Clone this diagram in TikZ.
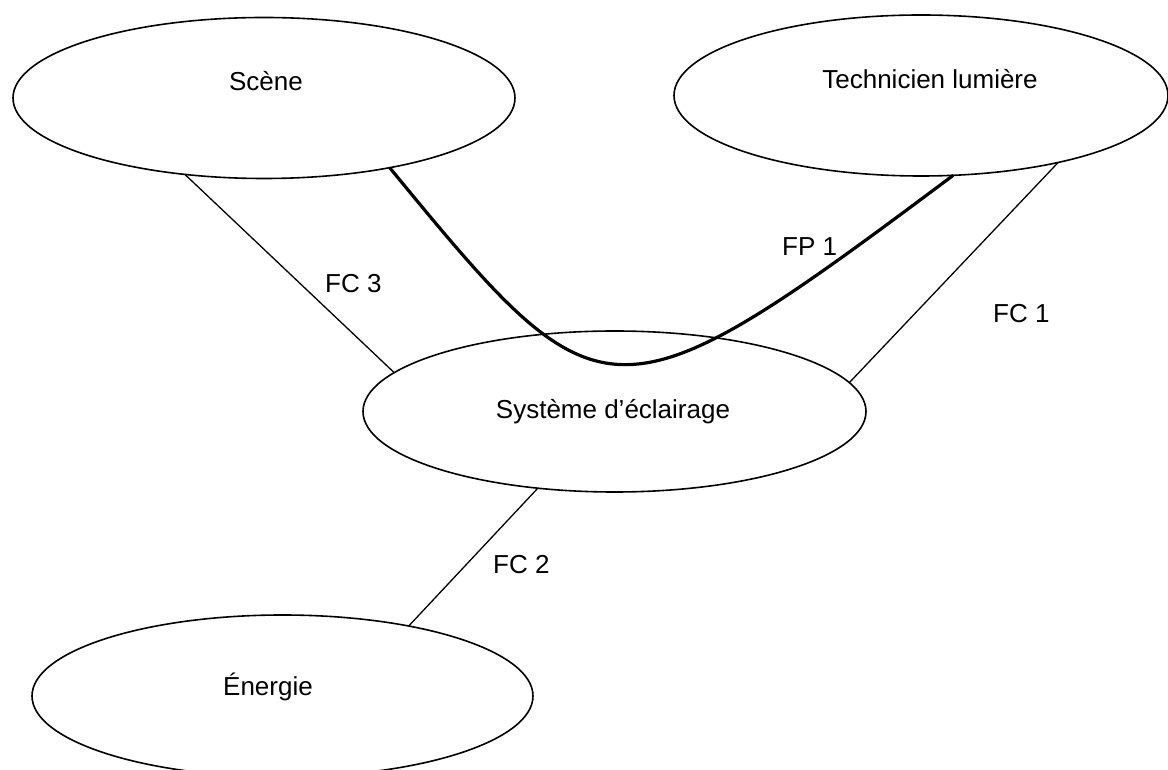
\documentclass[tikz,border=0pt]{standalone}
\usepackage{fontspec}
\setmainfont{Liberation Sans}
\usetikzlibrary{shapes.geometric}

\tikzset{
  milieu/.style={ellipse, draw, line width=1.6pt, inner sep=0pt, outer sep=0pt},
  nom/.style={anchor=base, inner sep=0pt, font=\fontsize{26}{31}\selectfont},
  etiquette/.style={anchor=base west, inner sep=0pt, font=\fontsize{26}{31}\selectfont},
  contrainte/.style={line width=1.3pt},
  principale/.style={line width=3.2pt}
}

\begin{document}
\begin{tikzpicture}[x=1pt, y=1pt]
  \useasboundingbox (0,0) rectangle (1168,769);
  \clip (0,0) rectangle (1168,769);

  % external elements and the system
  \node[milieu, minimum width=502pt, minimum height=161pt] (scene) at (264,671) {};
  \node[milieu, minimum width=494pt, minimum height=161pt] (tech) at (921,673.5) {};
  \node[milieu, minimum width=503pt, minimum height=161pt] (sys) at (614.5,357.5) {};
  \node[milieu, minimum width=501pt, minimum height=162pt] (energie) at (282.5,73) {};

  % names
  \node[nom] (tscene) at (266,678.3) {Scène};
  \node[nom] (ttech) at (930,680.7) {Technicien lumière};
  \node[nom] (tsys) at (613,350) {Système d’éclairage};
  \node[nom] (tenergie) at (268,73.3) {Énergie};

  % function links
  \draw[principale] (scene.331.9) .. controls (602,343) and (610,337) .. (tech.292.6);
  \draw[contrainte] (tech.334.3) -- (sys.7.4);
  \draw[contrainte] (sys.225.4) -- (energie.29.4);
  \draw[contrainte] (scene.224.3) -- (sys.170.2);

  % function labels
  \node[etiquette] (fp1) at (782,513) {FP 1};
  \node[etiquette] (fc1) at (993,446) {FC 1};
  \node[etiquette] (fc2) at (493,195.7) {FC 2};
  \node[etiquette] (fc3) at (325,476.7) {FC 3};
\end{tikzpicture}
\end{document}
